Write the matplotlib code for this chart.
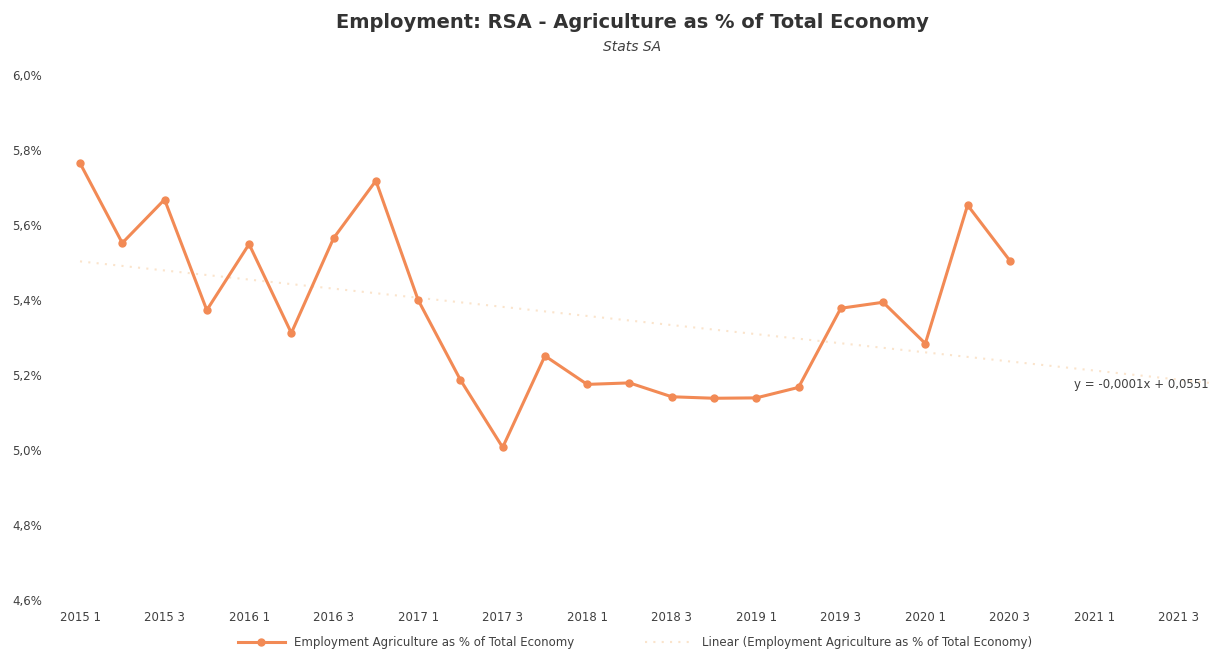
import numpy as np
import matplotlib.pyplot as plt

# quarterly data, % of total employment
quarters = [f"{y} {q}" for y in range(2015, 2022) for q in range(1, 5)]
values = [5.765, 5.552, 5.668, 5.373, 5.549, 5.312, 5.565, 5.718,
          5.400, 5.187, 5.007, 5.251, 5.175, 5.179, 5.142, 5.138,
          5.139, 5.167, 5.378, 5.394, 5.284, 5.653, 5.505]
y_ticks = [4.6, 4.8, 5.0, 5.2, 5.4, 5.6, 5.8, 6.0]
series_name = "Employment Agriculture as % of Total Economy"
equation = "y = -0,0001x + 0,0551"

x = np.arange(len(values))
xall = np.arange(len(quarters))
slope, icept = np.polyfit(x, values, 1)
trend = icept + slope * xall

fig = plt.figure(figsize=(12.14, 6.5), dpi=100)
ax = fig.add_axes([0.0485, 0.0769, 0.9515, 0.8077])

line_col = "#F28A55"
ax.plot(xall, trend, color="#F8D2AA", lw=1.5, ls=(0, (1, 3)), alpha=0.6,
        label=f"Linear ({series_name})", zorder=1)
ax.plot(x, values, color=line_col, lw=2.2, marker="o", ms=5,
        label=series_name, zorder=3)

ax.set_xlim(-0.5, 26.83)
ax.set_ylim(4.6, 6.0)
ax.set_yticks(y_ticks)
ax.set_yticklabels([f"{v:.1f}%".replace(".", ",") for v in y_ticks])
ax.set_xticks(xall[::2])
ax.set_xticklabels(quarters[::2])
ax.tick_params(length=0, labelsize=8.5, colors="#404040")
ax.tick_params(axis="x", pad=8)
ax.tick_params(axis="y", pad=12)
for s in ax.spines.values():
    s.set_visible(False)

ax.text(0.937, 0.41, equation, transform=ax.transAxes, ha="center",
        va="center", fontsize=8.5, color="#404040")

fig.text(0.521, 0.965, "Employment: RSA - Agriculture as % of Total Economy",
         ha="center", va="center", fontsize=14, fontweight="bold", color="#333333")
fig.text(0.521, 0.927, "Stats SA", ha="center", va="center", fontsize=10,
         style="italic", color="#404040")

h, l = ax.get_legend_handles_labels()
fig.legend(h[::-1], l[::-1], loc="center", bbox_to_anchor=(0.523, 0.011), ncol=2,
           frameon=False, fontsize=8.5, columnspacing=6, handlelength=4,
           labelcolor="#404040")

fig.savefig("out.png", dpi=100)
